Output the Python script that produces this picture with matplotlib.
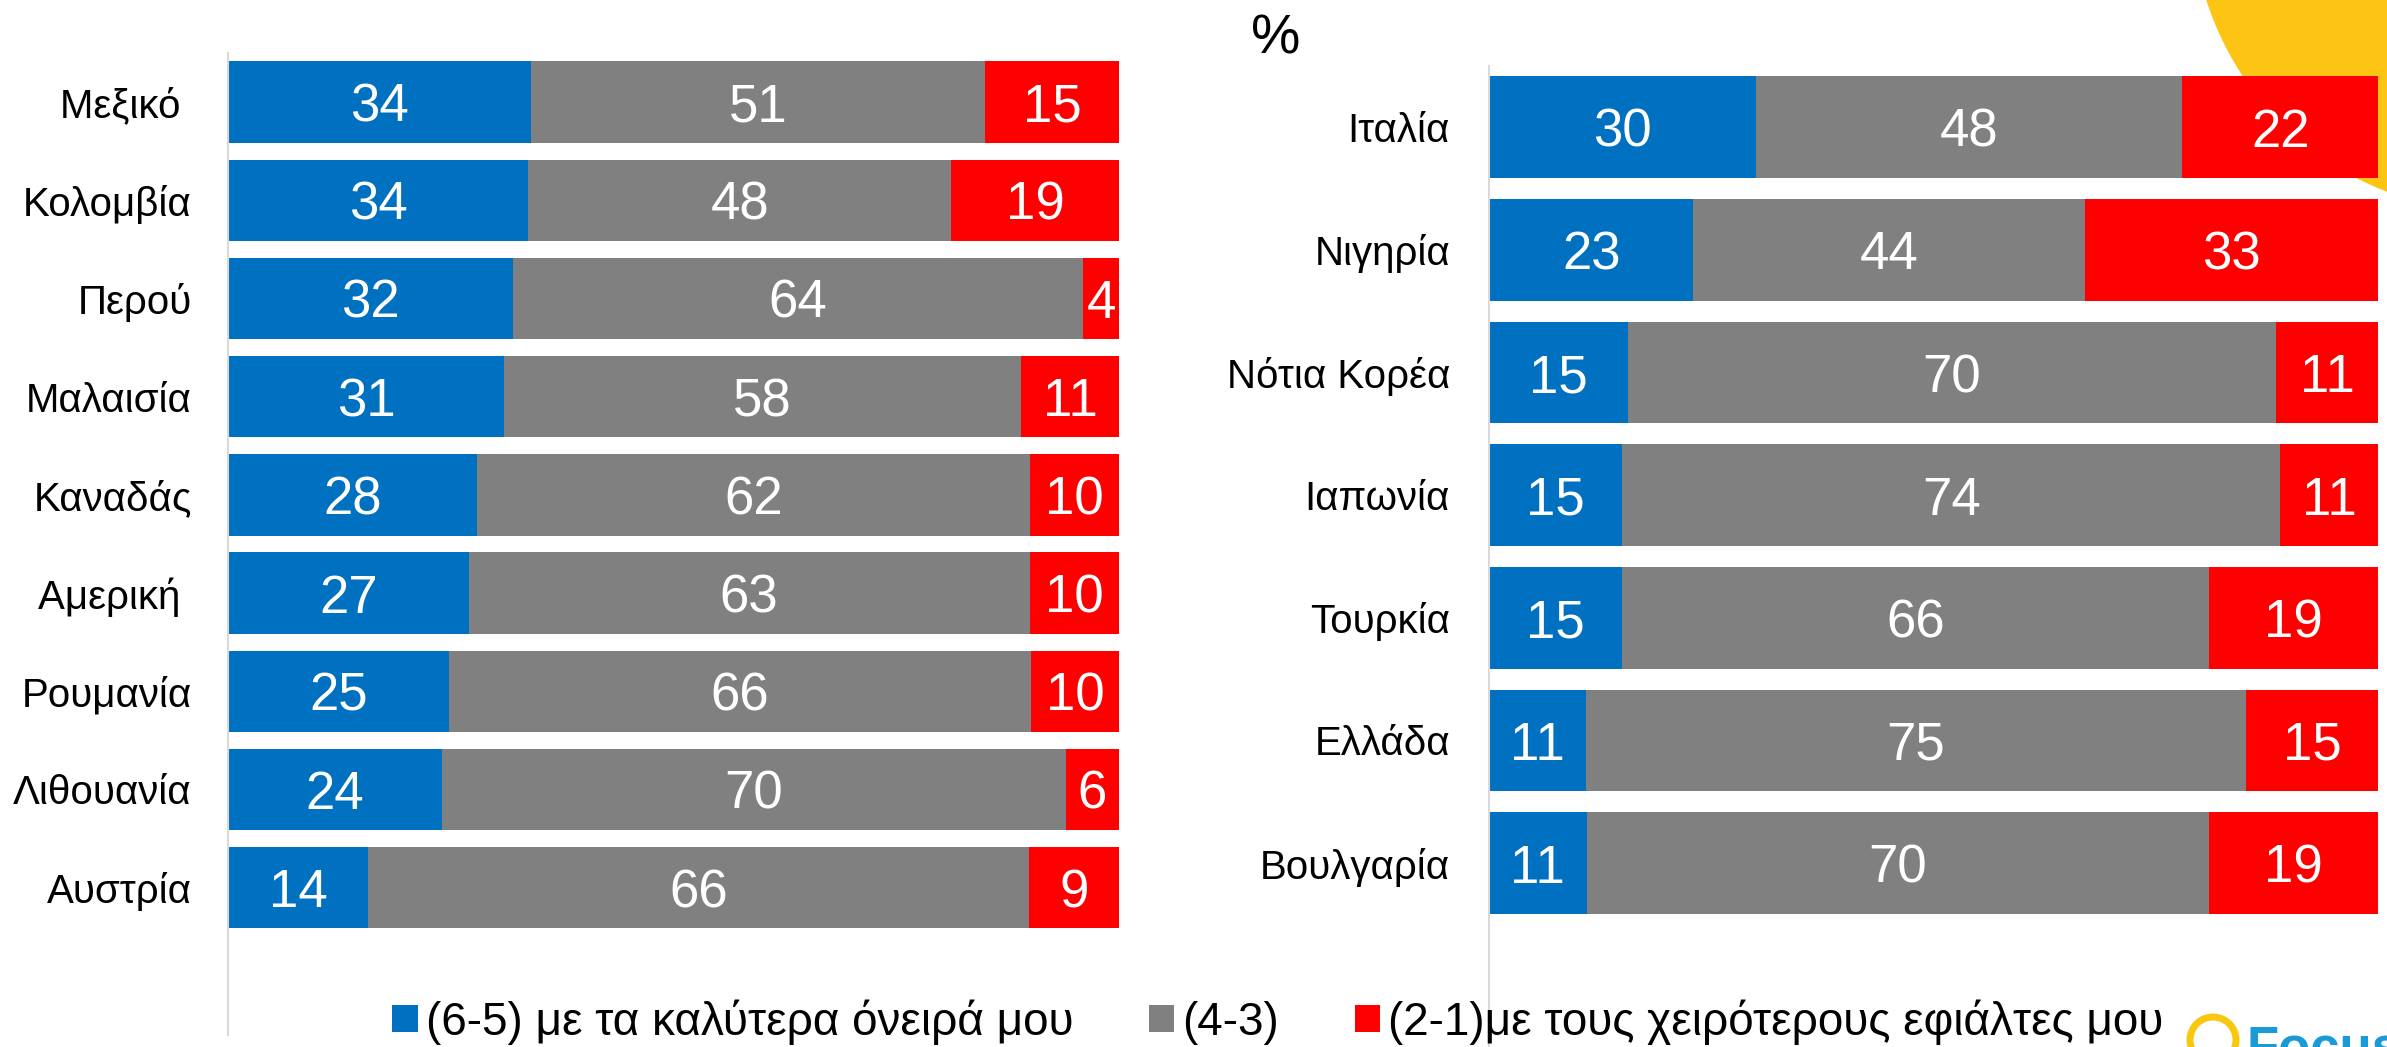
import numpy as np
import matplotlib
matplotlib.use("Agg")
import matplotlib.pyplot as plt
from matplotlib.patches import Circle

plt.rcParams['font.family'] = ['Liberation Sans', 'DejaVu Sans']

# data
left_countries = ['Μεξικό ', 'Κολομβία', 'Περού', 'Μαλαισία', 'Καναδάς',
                  'Αμερική ', 'Ρουμανία', 'Λιθουανία', 'Αυστρία']
left_best = [34, 34, 32, 31, 28, 27, 25, 24, 14]
left_mid = [51, 48, 64, 58, 62, 63, 66, 70, 66]
left_worst = [15, 19, 4, 11, 10, 10, 10, 6, 9]

right_countries = ['Ιταλία', 'Νιγηρία', 'Νότια Κορέα', 'Ιαπωνία',
                   'Τουρκία', 'Ελλάδα', 'Βουλγαρία']
right_best = [30, 23, 15, 15, 15, 11, 11]
right_mid = [48, 44, 70, 74, 66, 75, 70]
right_worst = [22, 33, 11, 11, 19, 15, 19]

series_names = ['(6-5) με τα καλύτερα όνειρά μου', '(4-3)',
                '(2-1)με τους χειρότερους εφιάλτες μου']
colors = ['#0070C0', '#808080', '#FF0000']

W, H = 2387, 1047
fig = plt.figure(figsize=(W / 100, H / 100), dpi=100)

# decorative yellow disc top right (behind the bars)
fig.patches.append(Circle((24.96, 11.39), 3.04, transform=fig.dpi_scale_trans,
                          facecolor='#FDC513', edgecolor='none', zorder=-5))

ax_l = fig.add_axes([228 / W, 1 - 1035 / H, 891 / W, 982 / H])
ax_r = fig.add_axes([1489 / W, 0, 889 / W, 981 / H])


def stacked(ax, countries, best, mid, worst, pad, ymax):
    vals = np.array([best, mid, worst], dtype=float)
    shares = vals / vals.sum(axis=0) * 100  # 100% stacked
    y = np.arange(len(countries))
    left = np.zeros(len(countries))
    conts = []
    for i in range(3):
        c = ax.barh(y, shares[i], left=left, height=0.83, color=colors[i],
                    label=series_names[i], zorder=2)
        conts.append(c)
        for yy, l, w, v in zip(y, left, shares[i], vals[i]):
            ax.text(l + w / 2, yy, f"{int(v)}", ha='center', va='center_baseline',
                    color='white', fontsize=38, zorder=3)
        left = left + shares[i]
    ax.set_xlim(0, 100)
    ax.set_ylim(ymax, -0.5)
    ax.set_yticks(y)
    ax.set_yticklabels(countries, fontsize=29)
    ax.tick_params(axis='y', length=0, pad=pad)
    ax.set_xticks([])
    for s in ['top', 'right', 'bottom']:
        ax.spines[s].set_visible(False)
    ax.spines['left'].set_color('#D9D9D9')
    ax.spines['left'].set_linewidth(1.5)
    ax.patch.set_alpha(0)
    return conts


conts = stacked(ax_l, left_countries, left_best, left_mid, left_worst, 26, 9.5)
stacked(ax_r, right_countries, right_best, right_mid, right_worst, 28, 7.5)

fig.text(1276 / W, 1 - 34 / H, '%', ha='center', va='center_baseline', fontsize=40)

fig.legend(handles=conts, labels=series_names, loc='center',
           bbox_to_anchor=(1278 / W, 1 - 1022 / H), ncol=3, frameon=False,
           fontsize=33, handlelength=0.55, handleheight=0.55,
           handletextpad=0.18, columnspacing=1.65, borderpad=0, borderaxespad=0)

# logo at bottom right, cut by the image edge as in the source
fig.patches.append(Circle((22.13, 0.07), 0.23, transform=fig.dpi_scale_trans,
                          facecolor='none', edgecolor='#F9C80E', linewidth=5,
                          zorder=1))
fig.text(2247 / W, -16 / H, 'FocusBari', ha='left', va='baseline',
         fontsize=38, fontweight='bold', color='#1A9AD6')

fig.savefig('out.png', dpi=100)
